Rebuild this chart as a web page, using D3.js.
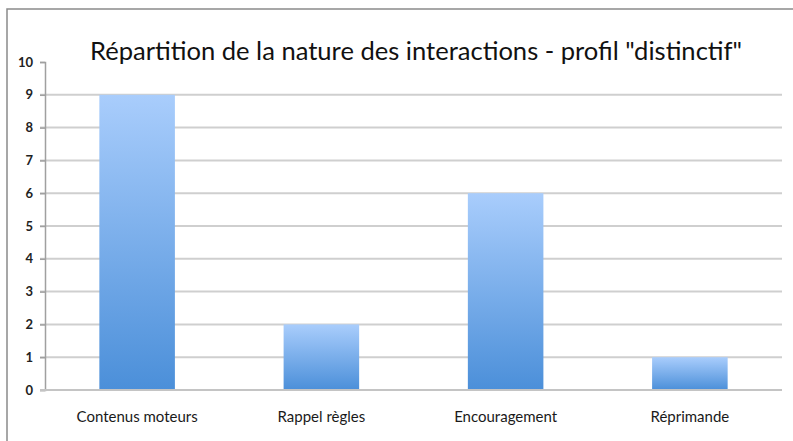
<!DOCTYPE html>
<html><head><meta charset="utf-8">
<script src="https://cdnjs.cloudflare.com/ajax/libs/d3/7.8.5/d3.min.js"></script>
<style>body{margin:0;background:#fff}svg{display:block}</style>
</head><body>
<script>
const title = 'Répartition de la nature des interactions - profil "distinctif"';
const categories = ["Contenus moteurs", "Rappel règles", "Encouragement", "Réprimande"];
const values = [9, 2, 6, 1];
const yTicks = [0,1,2,3,4,5,6,7,8,9,10];

const W = 793, H = 441;
const svg = d3.select("body").append("svg").attr("width", W).attr("height", H);

const defs = svg.append("defs");
const grad = defs.append("linearGradient").attr("id","barGrad")
  .attr("x1",0).attr("y1",0).attr("x2",0).attr("y2",1);
grad.append("stop").attr("offset","0%").attr("stop-color","#a9cdfc");
grad.append("stop").attr("offset","100%").attr("stop-color","#4b8fd9");

// outer frame
svg.append("rect").attr("x",7).attr("y",9).attr("width",W).attr("height",H)
  .attr("fill","none").attr("stroke","#8a8a8a").attr("stroke-width",1.5);

const x = d3.scaleBand().domain(categories).range([45, 782]).paddingInner(0.59).paddingOuter(0.295);
const y = d3.scaleLinear().domain([0,10]).range([390, 62]);

// gridlines
svg.append("g").selectAll("line").data(yTicks.filter(t => t > 0 && t < 10)).join("line")
  .attr("x1",40).attr("x2",782).attr("y1",d=>y(d)).attr("y2",d=>y(d))
  .attr("stroke","#cfcfcf").attr("stroke-width",2);

// y axis
const yAxis = d3.axisLeft(y).tickValues(yTicks).tickSize(5).tickPadding(7);
const gy = svg.append("g").attr("transform","translate(45,0)").call(yAxis);
gy.select(".domain").attr("stroke","#a0a0a0").attr("stroke-width",1.5);
gy.selectAll(".tick line").attr("stroke","#a0a0a0").attr("stroke-width",1.5);
gy.selectAll(".tick text").attr("font-family","Lato, 'Open Sans', sans-serif")
  .attr("font-weight","bold").attr("font-size",13).attr("fill","#222");

// bars
svg.append("g").selectAll("rect").data(values).join("rect")
  .attr("x",(d,i)=>x(categories[i]))
  .attr("width",x.bandwidth())
  .attr("y",d=>y(d))
  .attr("height",d=>y(0)-y(d))
  .attr("fill","url(#barGrad)");

// x axis baseline
svg.append("line").attr("x1",40).attr("x2",782).attr("y1",y(0)).attr("y2",y(0))
  .attr("stroke","#c4c4c4").attr("stroke-width",2);

// x labels
const xAxis = d3.axisBottom(x).tickSize(0).tickPadding(21);
const gx = svg.append("g").attr("transform",`translate(0,${y(0)})`).call(xAxis);
gx.select(".domain").remove();
gx.selectAll(".tick text").attr("font-family","Lato, 'Open Sans', sans-serif")
  .attr("font-size",15).attr("fill","#1a1a1a");

// title
svg.append("text").attr("x",416).attr("y",60).attr("text-anchor","middle")
  .attr("font-family","Lato, 'Open Sans', sans-serif").attr("font-size",25)
  .attr("fill","#111").attr("textLength",652).attr("lengthAdjust","spacingAndGlyphs")
  .text(title);
</script>
</body></html>
